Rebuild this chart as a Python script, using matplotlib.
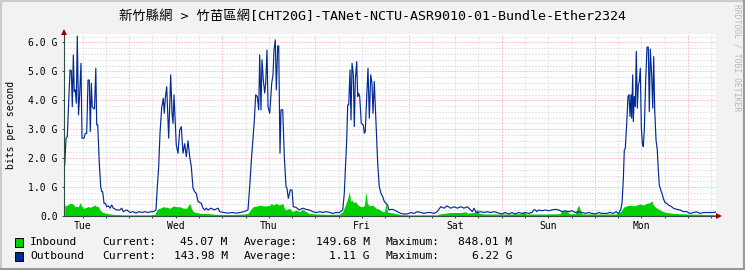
import matplotlib
matplotlib.use("Agg")
import matplotlib.pyplot as plt
from matplotlib.lines import Line2D
from matplotlib.patches import Rectangle
from matplotlib.ticker import FixedLocator

# ---------------- data (hours since Tue 00:00, values in Gbit/s) ----------------
title = "新竹縣網 > 竹苗區網[CHT20G]-TANet-NCTU-ASR9010-01-Bundle-Ether2324"
day_labels = ["Tue", "Wed", "Thu", "Fri", "Sat", "Sun", "Mon"]
day_label_hours = [12, 36, 60, 84, 108, 132, 156]
y_ticks = [0, 1, 2, 3, 4, 5, 6]
y_tick_labels = ["0.0", "1.0 G", "2.0 G", "3.0 G", "4.0 G", "5.0 G", "6.0 G"]
t_start, t_end = 7.2, 175.24

out_hours = [
    7.38, 7.72, 8.05, 8.75, 9.08, 9.34, 9.60, 9.85, 10.11, 10.37, 10.63, 10.94, 11.25, 11.58, 11.84,
    12.35, 12.69, 13.05, 13.39, 13.72, 13.98, 14.24, 14.49, 14.75, 15.06, 15.40, 15.63, 15.89, 16.30,
    16.66, 16.92, 17.17, 17.51, 17.84, 18.21, 18.62, 19.06, 19.49, 19.91, 20.78, 21.63, 22.07, 22.48,
    23.36, 24.21, 24.98, 25.76, 26.53, 27.30, 28.08, 28.85, 29.62, 30.22, 30.91, 31.25, 31.61, 31.94,
    32.38, 32.79, 33.05, 33.31, 33.67, 33.93, 34.18, 34.70, 35.04, 35.29, 35.55, 35.89, 36.14, 36.58,
    37.02, 37.43, 37.87, 38.31, 38.72, 39.16, 39.60, 40.01, 40.45, 40.89, 41.30, 41.74, 42.17, 42.59,
    43.02, 43.46, 43.88, 44.31, 45.09, 45.86, 46.89, 47.33, 48.44, 49.47, 50.50, 51.53, 52.56, 53.59,
    54.62, 55.06, 55.47, 55.91, 56.25, 56.61, 57.02, 57.38, 57.64, 57.97, 58.23, 58.57, 58.93, 59.18,
    59.52, 59.78, 60.22, 60.73, 61.07, 61.32, 61.66, 61.92, 62.28, 62.54, 62.87, 63.13, 63.57, 63.98,
    64.42, 64.67, 65.01, 65.52, 65.96, 66.30, 66.99, 67.84, 68.80, 69.57, 70.42, 71.30, 72.15, 73.18,
    73.88, 74.73, 75.76, 76.45, 77.30, 78.15, 79.03, 79.44, 79.70, 80.06, 80.32, 80.58, 80.91, 81.17,
    81.43, 81.76, 82.02, 82.28, 82.64, 82.90, 83.15, 83.41, 83.82, 84.34, 84.60, 84.85, 85.22, 85.55,
    85.89, 86.25, 86.58, 86.84, 87.17, 87.61, 88.05, 88.46, 88.90, 89.34, 89.75, 90.19, 90.58, 90.96,
    91.74, 92.25, 93.10, 93.98, 94.83, 95.68, 96.63, 97.41, 98.26, 99.21, 99.98, 100.76, 101.71,
    102.56, 103.41, 104.29, 105.14, 105.91, 106.86, 107.72, 108.57, 109.44, 110.29, 111.14, 112.02,
    112.43, 112.87, 113.31, 113.72, 114.60, 115.45, 116.22, 117.17, 118.02, 118.80, 120.09, 120.86,
    121.81, 122.66, 123.51, 124.39, 125.24, 126.09, 126.97, 127.82, 128.26, 128.67, 129.11, 129.55,
    130.40, 131.25, 132.12, 132.97, 133.82, 134.70, 135.55, 136.40, 137.28, 138.13, 138.98, 139.85,
    140.71, 141.56, 142.43, 143.28, 144.13, 145.01, 145.86, 147.07, 147.92, 148.77, 149.47, 150.06,
    150.68, 151.01, 151.35, 151.61, 151.86, 152.23, 152.56, 152.82, 153.08, 153.33, 153.51, 153.77,
    153.93, 154.18, 154.44, 154.70, 154.96, 155.22, 155.47, 155.73, 155.99, 156.25, 156.50, 156.76,
    157.12, 157.46, 157.79, 158.05, 158.31, 158.67, 158.93, 159.18, 159.44, 159.78, 160.11, 160.37,
    160.63, 160.99, 161.32, 161.66, 162.10, 162.54, 162.95, 163.39, 163.82, 164.24, 165.11, 165.96,
    166.81, 167.69, 168.54, 169.39, 170.27, 171.12, 171.97, 172.84, 173.69, 174.55, 175.24,
]
out_gbps = [
    1.76, 2.69, 2.75, 5.05, 5.03, 3.78, 5.57, 4.30, 4.36, 3.90, 6.22, 3.50, 4.25, 5.28, 2.69,
    2.69, 2.86, 2.86, 4.70, 4.70, 2.92, 4.59, 3.78, 3.73, 3.70, 5.11, 3.15, 3.15, 1.82,
    1.01, 0.84, 0.84, 0.44, 0.44, 0.32, 0.35, 0.27, 0.38, 0.27, 0.21, 0.21, 0.27, 0.15,
    0.21, 0.12, 0.15, 0.10, 0.15, 0.12, 0.15, 0.12, 0.15, 0.15, 0.21, 1.01, 1.71, 2.86,
    3.74, 4.07, 3.55, 4.07, 4.47, 3.55, 2.69, 4.88, 3.55, 3.20, 4.19, 3.20, 2.45, 2.17,
    2.97, 3.09, 2.17, 2.50, 2.05, 2.60, 2.05, 1.71, 0.96, 0.84, 0.78, 0.50, 0.47, 0.44,
    0.27, 0.21, 0.27, 0.21, 0.27, 0.21, 0.27, 0.15, 0.12, 0.10, 0.12, 0.10, 0.12, 0.15,
    0.21, 1.01, 1.88, 2.70, 3.30, 4.19, 4.13, 3.67, 5.57, 3.67, 5.40, 4.70, 4.25, 4.59,
    5.74, 3.78, 3.55, 4.59, 4.88, 5.74, 6.09, 4.36, 5.88, 5.88, 2.17, 3.67, 3.67, 2.05,
    1.01, 0.96, 0.61, 0.90, 0.90, 0.32, 0.30, 0.21, 0.27, 0.23, 0.21, 0.15, 0.12, 0.15,
    0.12, 0.15, 0.12, 0.09, 0.12, 0.12, 0.21, 0.78, 1.59, 2.63, 3.84, 3.84, 5.05, 3.32,
    5.28, 4.90, 3.09, 4.70, 5.34, 4.13, 4.24, 4.13, 3.20, 3.15, 2.86, 2.92, 4.13, 5.11,
    3.38, 4.88, 4.59, 3.55, 4.65, 3.20, 1.82, 1.01, 0.78, 0.67, 0.50, 0.44, 0.38, 0.21,
    0.23, 0.21, 0.15, 0.09, 0.07, 0.07, 0.12, 0.09, 0.15, 0.12, 0.09, 0.12, 0.12,
    0.09, 0.15, 0.32, 0.27, 0.35, 0.27, 0.32, 0.27, 0.32, 0.27, 0.32, 0.21,
    0.15, 0.27, 0.15, 0.12, 0.15, 0.12, 0.15, 0.12, 0.15, 0.12, 0.07, 0.12,
    0.07, 0.12, 0.07, 0.12, 0.09, 0.12, 0.09, 0.12, 0.21, 0.21, 0.15, 0.21,
    0.18, 0.21, 0.18, 0.21, 0.23, 0.21, 0.15, 0.18, 0.15, 0.18, 0.12, 0.15,
    0.12, 0.09, 0.12, 0.09, 0.07, 0.12, 0.09, 0.09, 0.12, 0.09, 0.15, 0.09,
    0.21, 0.44, 1.25, 2.28, 2.34, 3.20, 4.13, 4.19, 3.44, 4.19, 3.38, 4.88,
    3.26, 4.13, 3.78, 5.69, 3.73, 4.53, 4.65, 5.11, 3.09, 2.51, 2.40, 2.98,
    4.70, 5.84, 5.84, 3.61, 5.77, 4.82, 3.73, 5.51, 3.67, 2.63, 2.28, 1.59,
    1.07, 0.90, 0.78, 0.61, 0.46, 0.44, 0.38, 0.35, 0.32, 0.27, 0.23, 0.21,
    0.15, 0.15, 0.09, 0.12, 0.14, 0.09, 0.12, 0.12, 0.12, 0.12, 0.144,
]

in_hours = [
    7.38, 7.72, 8.05, 8.31, 8.75, 9.18, 9.60, 10.04, 10.47, 10.89, 11.32, 11.76, 12.17, 13.05, 13.46,
    13.90, 14.75, 15.19, 15.63, 16.04, 16.48, 16.92, 17.33, 18.21, 19.06, 20.78, 22.48, 24.21, 26.79,
    29.36, 30.65, 31.09, 31.50, 31.94, 32.79, 33.67, 34.52, 35.37, 36.25, 37.10, 37.95, 38.82, 39.60,
    40.01, 40.52, 41.40, 42.25, 43.98, 46.12, 49.98, 53.85, 54.62, 55.47, 55.91, 56.86, 57.72, 58.57,
    59.44, 60.29, 60.63, 61.14, 61.84, 62.69, 63.57, 63.98, 64.42, 65.27, 66.14, 66.99, 67.84, 68.72,
    69.57, 70.42, 72.15, 74.73, 78.15, 79.03, 79.88, 80.32, 80.73, 81.09, 81.43, 81.76, 82.28, 82.90,
    83.75, 84.60, 85.04, 85.37, 85.89, 86.76, 87.61, 88.46, 89.34, 89.80, 90.19, 90.58, 91.22, 92.25,
    93.98, 96.38, 98.95, 103.41, 104.29, 106.86, 109.44, 110.73, 111.14, 112.87, 113.72, 114.08,
    115.45, 118.02, 122.15, 125.24, 125.76, 126.27, 131.17, 135.04, 135.55, 136.84, 137.35, 138.98,
    139.42, 139.85, 140.27, 140.71, 145.34, 149.47, 150.68, 150.94, 151.53, 152.23, 153.08, 153.93,
    154.80, 155.65, 156.50, 157.38, 158.23, 158.67, 159.08, 159.52, 159.96, 160.81, 161.66, 162.54,
    164.24, 167.69, 171.12, 175.24,
]
in_gbps = [
    0.38, 0.35, 0.38, 0.40, 0.44, 0.44, 0.40, 0.32, 0.34, 0.32, 0.46, 0.35, 0.27, 0.30, 0.33,
    0.30, 0.35, 0.38, 0.33, 0.32, 0.21, 0.15, 0.12, 0.09, 0.07, 0.05, 0.04, 0.04, 0.04,
    0.04, 0.06, 0.20, 0.25, 0.27, 0.32, 0.30, 0.27, 0.35, 0.32, 0.32, 0.27, 0.27, 0.44,
    0.27, 0.15, 0.12, 0.09, 0.09, 0.06, 0.05, 0.07, 0.09, 0.25, 0.32, 0.34, 0.38, 0.35,
    0.35, 0.38, 0.44, 0.38, 0.44, 0.38, 0.44, 0.27, 0.21, 0.27, 0.15, 0.21, 0.15, 0.23,
    0.15, 0.09, 0.07, 0.06, 0.06, 0.15, 0.44, 0.61, 0.848, 0.50, 0.56, 0.46, 0.50, 0.38,
    0.32, 0.35, 0.84, 0.44, 0.35, 0.38, 0.27, 0.23, 0.15, 0.15, 0.44, 0.15, 0.12, 0.10,
    0.05, 0.04, 0.04, 0.04, 0.08, 0.12, 0.12, 0.15, 0.10, 0.12, 0.23, 0.10,
    0.07, 0.07, 0.07, 0.08, 0.15, 0.07, 0.07, 0.08, 0.18, 0.18, 0.08, 0.08,
    0.27, 0.38, 0.20, 0.07, 0.07, 0.07, 0.15, 0.21, 0.32, 0.35, 0.38, 0.35,
    0.38, 0.42, 0.38, 0.44, 0.46, 0.53, 0.38, 0.32, 0.27, 0.21, 0.15, 0.12,
    0.09, 0.07, 0.06, 0.045,
]

legend_rows = [
    ("Inbound", "45.07 M", "149.68 M", "848.01 M"),
    ("Outbound", "143.98 M", "1.11 G", "6.22 G"),
]

# ---------------- style ----------------
BACK = "#F2F2F2"
GREEN = "#00CF00"
BLUE = "#002A97"
MONO = "DejaVu Sans Mono"
W, H = 745, 270

fig = plt.figure(figsize=(W / 100, H / 100), dpi=100, facecolor=BACK)

def fx(px):
    return px / W

def fy(py):
    return 1 - py / H

ax_left, ax_right, ax_top, ax_bot = 64, 716, 33.5, 216
ax = fig.add_axes([fx(ax_left), fy(ax_bot), (ax_right - ax_left) / W, (ax_bot - ax_top) / H])
ax.set_facecolor("white")

ax.fill_between(in_hours, in_gbps, 0, color=GREEN, linewidth=0, zorder=3)
ax.plot(out_hours, out_gbps, color=BLUE, linewidth=0.85, zorder=4)

ax.set_xlim(t_start, t_end)
ax.set_ylim(0, 6.31)

# grid
minor_c, major_c = "#CFCFCF", "#F29A9A"
ls = (0, (1, 2))
for i in range(1, 32):
    yv = i * 0.2
    if yv > 6.31:
        break
    is_major = (i % 5 == 0)
    ax.axhline(yv, color=major_c if is_major else minor_c, lw=0.72, ls=ls, zorder=2 if is_major else 1)
for hh in range(6, 180, 6):
    if t_start < hh < t_end:
        is_major = (hh % 24 == 0)
        ax.axvline(hh, color=major_c if is_major else minor_c, lw=0.72, ls=ls, zorder=2 if is_major else 1)

# axes / ticks
for s in ("top", "right"):
    ax.spines[s].set_visible(False)
for s in ("left", "bottom"):
    ax.spines[s].set_color("#2C4D43")
    ax.spines[s].set_linewidth(0.8)
    ax.spines[s].set_zorder(5)

ax.xaxis.remove_overlapping_locs = False
ax.xaxis.set_major_locator(FixedLocator(day_label_hours))
ax.set_xticklabels(day_labels, fontsize=7, family=MONO)
ax.xaxis.set_minor_locator(FixedLocator([hh for hh in range(12, 180, 6) if t_start < hh < t_end]))
ax.tick_params(axis="x", which="major", length=0, pad=3.4)
ax.tick_params(axis="x", which="minor", length=1.6, width=0.7, color="#2C4D43", direction="out")

ax.set_yticks(y_ticks)
ax.set_yticklabels(y_tick_labels, fontsize=7, family=MONO)
ax.tick_params(axis="y", which="major", length=1.6, width=0.7, color="#2C4D43", pad=3.0)

ax.set_ylabel("bits per second", fontsize=7, family=MONO, labelpad=0)
ax.yaxis.set_label_coords((16 - ax_left) / (ax_right - ax_left), 0.5)

# arrows
ax.plot([0], [1.006], marker="^", ms=4.2, color="#9B0000", mec="#9B0000", mew=0,
        transform=ax.transAxes, clip_on=False, zorder=6)
ax.plot([1.004], [0], marker=">", ms=4.2, color="#9B0000", mec="#9B0000", mew=0,
        transform=ax.transAxes, clip_on=False, zorder=6)

# title
fig.text(0.5, fy(16), title, ha="center", va="center", fontsize=9.6,
         family=[MONO, "Noto Sans CJK TC"])

# watermark
fig.text(fx(737.5), fy(58), "RRDTOOL / TOBI OETIKER", rotation=270, ha="center", va="center",
         fontsize=5.8, family=MONO, color="#B8B8B8")

# legend
row_y = [242, 256]
for (name, cur, avg, mx), yy, col in zip(legend_rows, row_y, [GREEN, BLUE]):
    fig.add_artist(Rectangle((fx(15), fy(yy + 4.5)), 8 / W, 9 / H, transform=fig.transFigure,
                             facecolor=col, edgecolor="black", linewidth=0.7))
    kw = dict(va="center", fontsize=8.1, family=MONO)
    fig.text(fx(30), fy(yy), name, ha="left", **kw)
    fig.text(fx(102), fy(yy), "Current:", ha="left", **kw)
    fig.text(fx(227.5), fy(yy), cur, ha="right", **kw)
    fig.text(fx(244), fy(yy), "Average:", ha="left", **kw)
    fig.text(fx(369.5), fy(yy), avg, ha="right", **kw)
    fig.text(fx(386), fy(yy), "Maximum:", ha="left", **kw)
    fig.text(fx(512), fy(yy), mx, ha="right", **kw)

# outer 3D frame
lw = 1.5
fig.add_artist(Line2D([0, 1], [fy(0.75), fy(0.75)], transform=fig.transFigure, color="#CBCBCB", lw=lw))
fig.add_artist(Line2D([fx(0.75), fx(0.75)], [0, 1], transform=fig.transFigure, color="#CBCBCB", lw=lw))
fig.add_artist(Line2D([0, 1], [fy(H - 1), fy(H - 1)], transform=fig.transFigure, color="#999999", lw=lw))
fig.add_artist(Line2D([fx(W - 1), fx(W - 1)], [0, 1], transform=fig.transFigure, color="#999999", lw=lw))

fig.savefig("out.png", dpi=100, facecolor=BACK)
